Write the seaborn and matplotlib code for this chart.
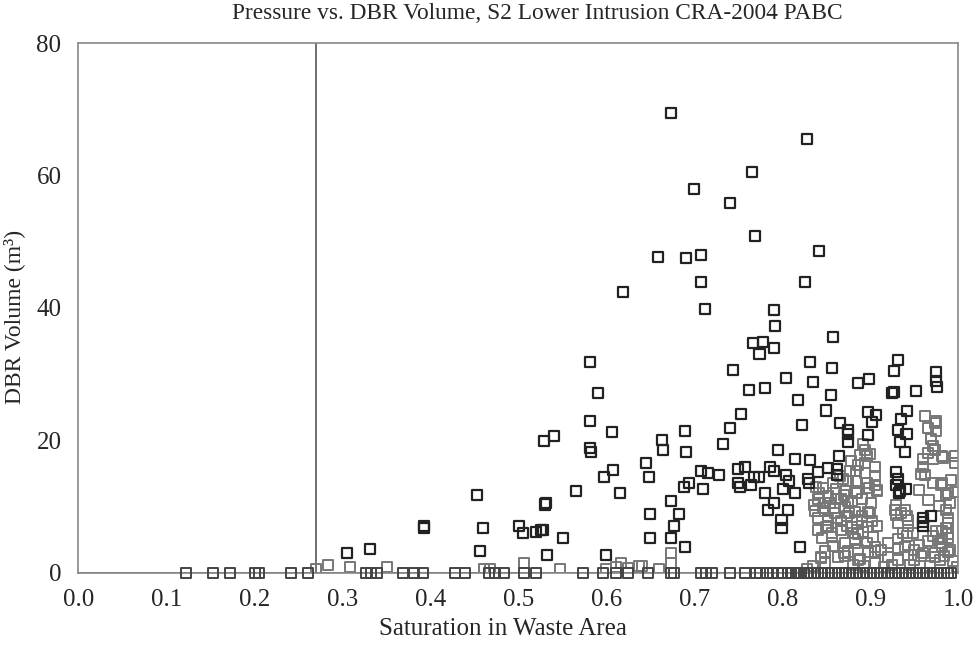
import numpy as np
import pandas as pd
import matplotlib
matplotlib.use("Agg")
import matplotlib.pyplot as plt
import seaborn as sns

# data
# dark (foreground) points
dark_x = [0.674, 0.828, 0.765, 0.700, 0.741, 0.769, 0.842, 0.659, 0.690, 0.707,
          0.708, 0.826, 0.619, 0.712, 0.790, 0.792, 0.767, 0.774, 0.744, 0.762,
          0.581, 0.590, 0.753, 0.741, 0.732, 0.582, 0.606, 0.540, 0.529, 0.582,
          0.583, 0.663, 0.664, 0.689, 0.691, 0.645, 0.648, 0.608, 0.597, 0.565,
          0.616, 0.707, 0.715, 0.728, 0.710, 0.688, 0.694, 0.750, 0.757, 0.750,
          0.752, 0.764, 0.773, 0.673, 0.683, 0.677, 0.674, 0.689, 0.650, 0.650,
          0.531, 0.528, 0.551, 0.533, 0.600, 0.305, 0.331, 0.393, 0.393, 0.453,
          0.460, 0.456, 0.501, 0.505, 0.520, 0.526, 0.530,
          0.778, 0.790, 0.857, 0.831, 0.856, 0.804, 0.835, 0.886, 0.898, 0.855,
          0.818, 0.780, 0.931, 0.927, 0.927, 0.925, 0.952, 0.974, 0.974, 0.976,
          0.850, 0.822, 0.865, 0.874, 0.874, 0.874, 0.897, 0.906, 0.902, 0.897,
          0.942, 0.935, 0.931, 0.941, 0.934, 0.939, 0.795, 0.814, 0.831, 0.864,
          0.768, 0.786, 0.790, 0.841, 0.852, 0.862, 0.862, 0.830, 0.807, 0.801,
          0.814, 0.929, 0.931, 0.929, 0.934, 0.932, 0.780, 0.790, 0.784, 0.806,
          0.799, 0.799, 0.820, 0.960, 0.960, 0.960, 0.969, 0.829, 0.940, 0.804]
dark_y = [69.5, 65.5, 60.5, 58.0, 55.8, 50.9, 48.6, 47.7, 47.6, 48.0,
          43.9, 43.9, 42.4, 39.8, 39.7, 37.3, 34.7, 33.0, 30.6, 27.6,
          31.8, 27.1, 23.9, 21.8, 19.5, 22.9, 21.2, 20.7, 19.9, 18.9,
          18.3, 20.0, 18.5, 21.4, 18.3, 16.5, 14.5, 15.5, 14.5, 12.3,
          12.0, 15.3, 15.0, 14.8, 12.6, 13.0, 13.5, 15.6, 15.9, 13.6,
          13.0, 13.3, 14.5, 10.9, 8.9, 7.1, 5.3, 3.9, 8.8, 5.3,
          10.5, 6.4, 5.2, 2.7, 2.6, 2.9, 3.6, 7.0, 6.7, 11.8,
          6.7, 3.3, 7.0, 6.0, 6.1, 6.4, 10.3,
          34.8, 33.9, 35.6, 31.8, 30.9, 29.4, 28.8, 28.6, 29.2, 26.8,
          26.1, 27.9, 32.1, 30.5, 27.3, 27.2, 27.4, 30.3, 28.9, 28.0,
          24.5, 22.3, 22.6, 21.5, 20.9, 19.7, 24.2, 23.8, 22.7, 20.8,
          24.4, 23.2, 21.5, 20.9, 19.8, 18.3, 18.5, 17.1, 17.0, 17.7,
          14.5, 15.9, 15.3, 15.2, 15.8, 15.6, 14.7, 13.6, 13.8, 12.7,
          12.1, 15.2, 14.1, 13.3, 12.4, 12.0, 12.1, 10.5, 9.4, 9.5,
          8.0, 6.8, 3.9, 8.3, 7.6, 7.0, 8.5, 14.1, 12.6, 14.7]

# lighter (background) points in the dense cluster
light_x = [0.962, 0.973, 0.975, 0.969, 0.971, 0.965, 0.960, 0.971, 0.981, 0.960,
           0.958, 0.996, 0.996, 0.971, 0.981, 0.996, 0.986, 0.894, 0.896, 0.894,
           0.905, 0.894, 0.905, 0.877, 0.875, 0.884, 0.896, 0.905, 0.861, 0.871,
           0.884, 0.907, 0.842, 0.852, 0.840, 0.854, 0.867, 0.879, 0.890, 0.901,
           0.836, 0.846, 0.859, 0.871, 0.882, 0.897, 0.929, 0.939, 0.942, 0.929,
           0.986, 0.988, 0.986, 0.975, 0.981, 0.981, 0.988, 0.973, 0.960, 0.950,
           0.939, 0.942, 0.931, 0.920, 0.912, 0.905, 0.897, 0.886, 0.875, 0.863,
           0.848, 0.844, 0.840, 0.850, 0.856, 0.867, 0.879, 0.886, 0.897, 0.903,
           0.882, 0.871, 0.840, 0.852, 0.867, 0.920, 0.950, 0.979, 0.931, 0.886,
           0.981, 0.988, 0.975, 0.965, 0.973, 0.983, 0.962, 0.980, 0.988, 0.869,
           0.884, 0.908, 0.898, 0.874, 0.885, 0.861, 0.837, 0.848, 0.860, 0.873,
           0.885, 0.899, 0.907, 0.852, 0.856, 0.873, 0.880, 0.892, 0.882, 0.896,
           0.928, 0.935, 0.943, 0.943, 0.931, 0.937, 0.948, 0.971, 0.979, 0.988,
           0.988, 0.844, 0.848, 0.871, 0.888, 0.905, 0.931, 0.943, 0.958, 0.973,
           0.984, 0.994, 0.270, 0.284, 0.309, 0.351, 0.461, 0.468, 0.547, 0.507,
           0.617, 0.637, 0.640, 0.673, 0.673, 0.600, 0.611, 0.625, 0.660,
           0.838, 0.846, 0.858, 0.866, 0.878, 0.888, 0.892, 0.900, 0.886, 0.870,
           0.848, 0.862, 0.876, 0.890, 0.902, 0.845, 0.858, 0.870, 0.880, 0.893,
           0.905, 0.915, 0.925, 0.945, 0.955, 0.965, 0.990, 0.992, 0.955, 0.966,
           0.978, 0.990, 0.968, 0.998, 0.835, 0.828]
light_y = [23.7, 22.6, 21.4, 20.2, 19.2, 18.1, 17.1, 17.1, 17.6, 15.9,
           14.9, 16.6, 17.6, 13.6, 13.5, 12.2, 11.8, 18.6, 17.6, 16.6,
           15.9, 15.1, 14.6, 15.3, 13.9, 13.9, 13.6, 13.3, 12.6, 12.3,
           12.1, 12.3, 12.1, 11.6, 11.1, 10.6, 11.1, 10.8, 11.1, 10.6,
           10.2, 9.7, 9.7, 9.9, 9.2, 9.2, 10.2, 9.5, 8.5, 8.7,
           9.5, 8.2, 6.8, 6.3, 5.1, 3.9, 3.1, 2.4, 2.9, 3.4,
           3.9, 5.6, 5.1, 4.5, 3.4, 3.9, 3.2, 3.4, 3.2, 2.4,
           3.2, 2.4, 6.4, 6.9, 5.4, 6.4, 6.9, 5.9, 6.9, 5.4,
           5.1, 4.5, 8.3, 8.0, 7.8, 2.4, 1.9, 1.9, 1.9, 1.9,
           6.3, 5.8, 22.9, 21.9, 18.6, 17.4, 14.8, 13.3, 12.1, 14.1,
           15.4, 12.5, 12.8, 10.8, 12.1, 11.1, 9.3, 9.3, 9.0, 8.5,
           8.0, 9.0, 7.0, 7.0, 6.0, 7.0, 6.0, 6.2, 4.5, 4.5,
           9.5, 9.0, 8.0, 7.0, 7.5, 6.0, 6.0, 5.5, 4.5, 5.3,
           7.5, 2.2, 1.5, 2.5, 2.0, 3.2, 3.7, 2.7, 2.5, 3.0,
           2.5, 1.8, 0.6, 1.1, 0.8, 0.9, 0.6, 0.6, 0.6, 1.5,
           1.5, 1.0, 1.0, 2.9, 1.5, 0.5, 0.8, 0.7, 0.6,
           13.0, 12.8, 13.5, 14.6, 16.8, 17.8, 19.5, 18.0, 16.2, 11.8,
           10.5, 8.2, 9.0, 8.6, 7.8, 5.2, 4.0, 3.0, 1.2, 1.0,
           1.5, 0.8, 1.1, 1.2, 4.2, 4.8, 10.5, 14.0, 12.5, 11.0,
           10.0, 3.5, 1.0, 0.8, 1.0, 0.6]

# realizations with zero volume
zero_x = [0.123, 0.153, 0.173, 0.201, 0.205, 0.242, 0.261, 0.327, 0.333, 0.339,
          0.369, 0.382, 0.392, 0.428, 0.439, 0.467, 0.473, 0.484, 0.507, 0.520,
          0.573, 0.596, 0.611, 0.625, 0.647, 0.673, 0.677, 0.708, 0.713, 0.720,
          0.740, 0.757, 0.770, 0.775, 0.782, 0.789, 0.795, 0.800, 0.806, 0.810,
          0.815, 0.819, 0.824, 0.828, 0.832, 0.836, 0.840, 0.844, 0.848, 0.852,
          0.856, 0.860, 0.864, 0.868, 0.872, 0.876, 0.880, 0.884, 0.888, 0.892,
          0.896, 0.900, 0.904, 0.908, 0.912, 0.916, 0.920, 0.924, 0.928, 0.932,
          0.936, 0.940, 0.944, 0.948, 0.952, 0.956, 0.960, 0.964, 0.968, 0.972,
          0.976, 0.980, 0.984, 0.988, 0.992]
zero_y = [0.0] * len(zero_x)

line_x = 0.27

sns.set_theme(style="white")
plt.rcParams["font.family"] = ["Liberation Serif", "DejaVu Serif"]

fig = plt.figure(figsize=(9.77, 6.53), dpi=100)
ax = fig.add_axes([0.080, 0.123, 0.901, 0.811])

ax.axvline(line_x, color="#666666", lw=1.3, zorder=1)
ax.axhline(0, color="#666666", lw=1.3, zorder=1)

df_light = pd.DataFrame({"x": light_x, "y": light_y})
df_zero = pd.DataFrame({"x": zero_x, "y": zero_y})
df_dark = pd.DataFrame({"x": dark_x, "y": dark_y})

sns.scatterplot(data=df_light, x="x", y="y", marker="s", s=52, facecolors="none",
                edgecolor="#777777", linewidth=1.4, ax=ax, zorder=2)
sns.scatterplot(data=df_zero, x="x", y="y", marker="s", s=52, facecolors="none",
                edgecolor="#444444", linewidth=1.4, ax=ax, zorder=3, clip_on=False)
sns.scatterplot(data=df_dark, x="x", y="y", marker="s", s=52, facecolors="none",
                edgecolor="#222222", linewidth=1.6, ax=ax, zorder=4)

ax.set_xlim(0, 1.0)
ax.set_ylim(0, 80)
ax.set_xticks(np.arange(0, 1.01, 0.1))
ax.set_xticklabels([f"{v:.1f}" for v in np.arange(0, 1.01, 0.1)])
ax.set_yticks([0, 20, 40, 60, 80])
ax.tick_params(direction="in", length=5, width=1, color="#666666",
               labelsize=18, pad=12)
for sp in ax.spines.values():
    sp.set_color("#888888")
    sp.set_linewidth(1.2)

ax.set_title("Pressure vs. DBR Volume, S2 Lower Intrusion CRA-2004 PABC",
             fontsize=16.8, pad=17, x=0.522)
ax.set_xlabel("Saturation in Waste Area", fontsize=18, labelpad=5)
ax.xaxis.label.set_x(0.482)
ax.set_ylabel("DBR Volume (m³)", fontsize=17, labelpad=8)
ax.yaxis.label.set_y(0.483)

fig.savefig("out.png", dpi=100)
